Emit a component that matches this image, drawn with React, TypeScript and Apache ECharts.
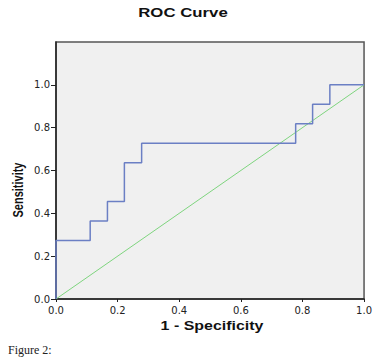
import React, { useEffect, useRef } from 'react';
import * as echarts from 'echarts';

// ROC staircase (1 - Specificity, Sensitivity), drawn with step 'end'
const fpr = [0, 0, 0.111, 0.167, 0.222, 0.278, 0.778, 0.833, 0.889, 1.0];
const tpr = [0, 0.273, 0.364, 0.455, 0.636, 0.727, 0.818, 0.909, 1.0, 1.0];
// reference diagonal
const refX = [0, 1];
const refY = [0, 1];
// tick values shown on the y axis
const yTicks = [0, 0.2, 0.4, 0.6, 0.8, 1.0];

const titleText = 'ROC Curve';
const xName = '1 - Specificity';
const yName = 'Sensitivity';
const caption = 'Figure 2:';

export default function App() {
  const ref = useRef<HTMLDivElement>(null);
  useEffect(() => {
    if (!ref.current) return;
    const chart = echarts.init(ref.current, null, { renderer: 'svg' });
    const labelStyle = {
      fontFamily: 'DejaVu Sans',
      fontSize: 10,
      color: '#222',
    };
    chart.setOption({
      animation: false,
      backgroundColor: '#ffffff',
      grid: {
        left: 56,
        right: 7,
        top: 42,
        bottom: 60,
        show: true,
        backgroundColor: '#f0f0f0',
        borderColor: '#555',
        borderWidth: 1.5,
      },
      xAxis: {
        type: 'value',
        min: 0,
        max: 1,
        interval: 0.2,
        splitLine: { show: false },
        axisLine: { show: true, onZero: false, lineStyle: { color: '#222', width: 1.5 } },
        axisTick: { show: true, length: 3, lineStyle: { color: '#222' } },
        axisLabel: { ...labelStyle, margin: 6, formatter: (v: number) => v.toFixed(1) },
      },
      yAxis: {
        type: 'value',
        min: 0,
        max: 1.2,
        interval: 0.2,
        splitLine: { show: false },
        axisLine: { show: true, onZero: false, lineStyle: { color: '#222', width: 1.5 } },
        axisTick: { show: true, length: 5, customValues: yTicks, lineStyle: { color: '#222' } },
        axisLabel: { ...labelStyle, margin: 6, customValues: yTicks, formatter: (v: number) => v.toFixed(1) },
      },
      graphic: [
        {
          type: 'text',
          x: 183,
          y: 13,
          scaleX: 1.4,
          style: {
            text: titleText,
            font: 'bold 12px "Liberation Sans", Arial, sans-serif',
            fill: '#111',
            align: 'center',
            verticalAlign: 'middle',
          },
        },
        {
          type: 'text',
          x: 212,
          y: 326,
          scaleX: 1.33,
          style: {
            text: xName,
            font: 'bold 12px "Liberation Sans", Arial, sans-serif',
            fill: '#111',
            align: 'center',
            verticalAlign: 'middle',
          },
        },
        {
          type: 'text',
          x: 19,
          y: 190,
          rotation: Math.PI / 2,
          scaleY: 1.25,
          style: {
            text: yName,
            font: 'bold 11px "Liberation Sans", Arial, sans-serif',
            fill: '#111',
            align: 'center',
            verticalAlign: 'middle',
          },
        },
        {
          type: 'text',
          x: 8,
          y: 350,
          style: {
            text: caption,
            font: '12px "Liberation Serif", "Times New Roman", serif',
            fill: '#222',
            align: 'left',
            verticalAlign: 'middle',
          },
        },
      ],
      series: [
        {
          type: 'line',
          data: refX.map((x, i) => [x, refY[i]]),
          showSymbol: false,
          symbol: 'none',
          lineStyle: { color: '#7ed47e', width: 1 },
          z: 2,
        },
        {
          type: 'line',
          step: 'end',
          data: fpr.map((x, i) => [x, tpr[i]]),
          showSymbol: false,
          symbol: 'none',
          lineStyle: { color: '#6b7fc4', width: 1.5 },
          z: 3,
        },
      ],
    });
    return () => chart.dispose();
  }, []);
  return (
    <div
      ref={ref}
      style={{ position: 'fixed', left: 0, top: 0, width: 375, height: 359 }}
    />
  );
}
